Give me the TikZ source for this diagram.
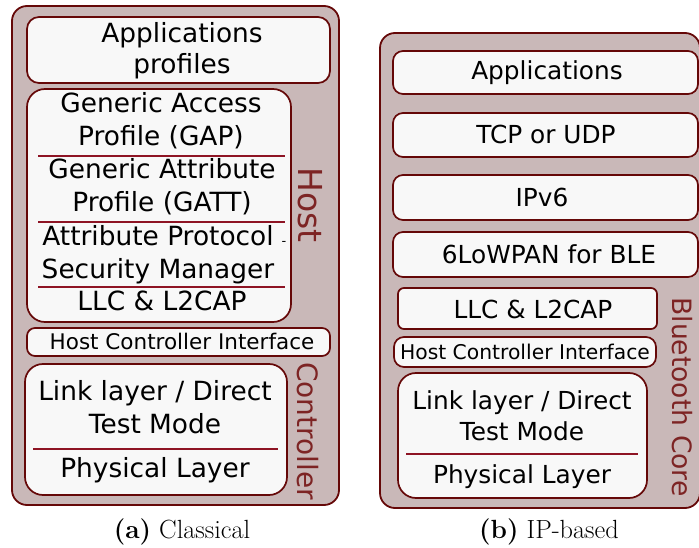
\documentclass[tikz,border=0pt]{standalone}
\usepackage{fontspec}
\newfontfamily\dv{DejaVu Sans}
\definecolor{outerfill}{HTML}{C9B8B8}
\definecolor{layerfill}{HTML}{F8F8F8}
\definecolor{boxline}{HTML}{650808}
\definecolor{sepline}{HTML}{8E1424}
\definecolor{sidetext}{HTML}{7D2424}
\tikzset{
  outerbox/.style={draw=boxline, fill=outerfill, line width=1.8pt, rounded corners=15pt},
  layer/.style={draw=boxline, fill=layerfill, line width=1.7pt},
  sepl/.style={draw=sepline, line width=1.4pt},
  lbl/.style={anchor=base, inner sep=0pt, font=\dv\fontsize{26.4}{32}\selectfont},
  rlbl/.style={anchor=base, inner sep=0pt, font=\dv\fontsize{24.8}{30}\selectfont},
  hcil/.style={anchor=base, inner sep=0pt, font=\dv\fontsize{21.5}{26}\selectfont},
  hcir/.style={anchor=base, inner sep=0pt, font=\dv\fontsize{20.3}{24}\selectfont},
  side/.style={inner sep=0pt, text=sidetext, rotate=-90, anchor=center},
  captxt/.style={anchor=base, inner sep=0pt, font=\fontsize{26.3}{31}\selectfont}
}
\begin{document}
\begin{tikzpicture}[x=1pt,y=-1pt]
\useasboundingbox (0,0) rectangle (699,548);
\clip (0,0) rectangle (699,548);

% ---------- left panel (Classical) ----------
\draw[outerbox] (12,6) rectangle (339,505);
\draw[layer, rounded corners=12pt] (27,17) rectangle (330,83);
\draw[layer, rounded corners=18pt] (27,89) rectangle (291,322);
\draw[sepl] (38,156) -- (285,156);
\draw[sepl] (38,222) -- (285,222);
\draw[sepl] (38,287) -- (285,287);
\draw[layer, rounded corners=8pt] (27,328) rectangle (330,356);
\draw[layer, rounded corners=18pt] (25,364) rectangle (287,495);
\draw[sepl] (33,449) -- (278,449);

\node[lbl] (lapp1) at (182,43) {Applications};
\node[lbl] (lapp2) at (182,74) {profiles};
\node[lbl] (gap1) at (161,113) {Generic Access};
\node[lbl] (gap2) at (161,146) {Profile (GAP)};
\node[lbl] (gatt1) at (162,179) {Generic Attribute};
\node[lbl] (gatt2) at (162,212) {Profile (GATT)};
\node[lbl] (att1) at (158,246) {Attribute Protocol};
\node[anchor=base, inner sep=0pt, font=\dv\fontsize{13}{15}\selectfont] (hyph) at (284,246) {-};
\node[lbl] (att2) at (158,279) {Security Manager};
\node[lbl] (lllc) at (162,310) {LLC \& L2CAP};
\node[hcil] (lhci) at (182,349) {Host Controller Interface};
\node[lbl] (llink1) at (155,400) {Link layer / Direct};
\node[lbl] (llink2) at (155,433) {Test Mode};
\node[lbl] (lphy) at (155,477) {Physical Layer};
\node[side, font=\dv\fontsize{33}{38}\selectfont] (host) at (310,205) {Host};
\node[side, font=\dv\fontsize{28}{32}\selectfont] (ctrl) at (308,431) {Controller};
\node[captxt] (capa) at (182,538) {\textbf{(a)} Classical};

% ---------- right panel (IP-based) ----------
\draw[outerbox] (380,33) rectangle (700,508);
\draw[layer, rounded corners=10pt] (393,51) rectangle (698,94);
\draw[layer, rounded corners=10pt] (393,113) rectangle (698,157);
\draw[layer, rounded corners=10pt] (393,175) rectangle (698,220);
\draw[layer, rounded corners=10pt] (393,232) rectangle (698,277);
\draw[layer, rounded corners=6pt] (398,288) rectangle (657,329);
\draw[layer, rounded corners=10pt] (394,337) rectangle (656,367);
\draw[layer, rounded corners=18pt] (398,373) rectangle (647,498);
\draw[sepl] (406,454) -- (638,454);

\node[rlbl] (rapp) at (547,80) {Applications};
\node[rlbl] (rtcp) at (546,144) {TCP or UDP};
\node[rlbl] (rip) at (542,207) {IPv6};
\node[rlbl] (rlow) at (549,264) {6LoWPAN for BLE};
\node[rlbl] (rllc) at (533,318) {LLC \& L2CAP};
\node[hcir] (rhci) at (525,359) {Host Controller Interface};
\node[rlbl] (rlink1) at (522,409) {Link layer / Direct};
\node[rlbl] (rlink2) at (522,440) {Test Mode};
\node[rlbl] (rphy) at (522,483) {Physical Layer};
\node[side, font=\dv\fontsize{26.6}{31}\selectfont] (btcore) at (682,397) {Bluetooth Core};
\node[captxt] (capb) at (549,538) {\textbf{(b)} IP-based};
\end{tikzpicture}
\end{document}
